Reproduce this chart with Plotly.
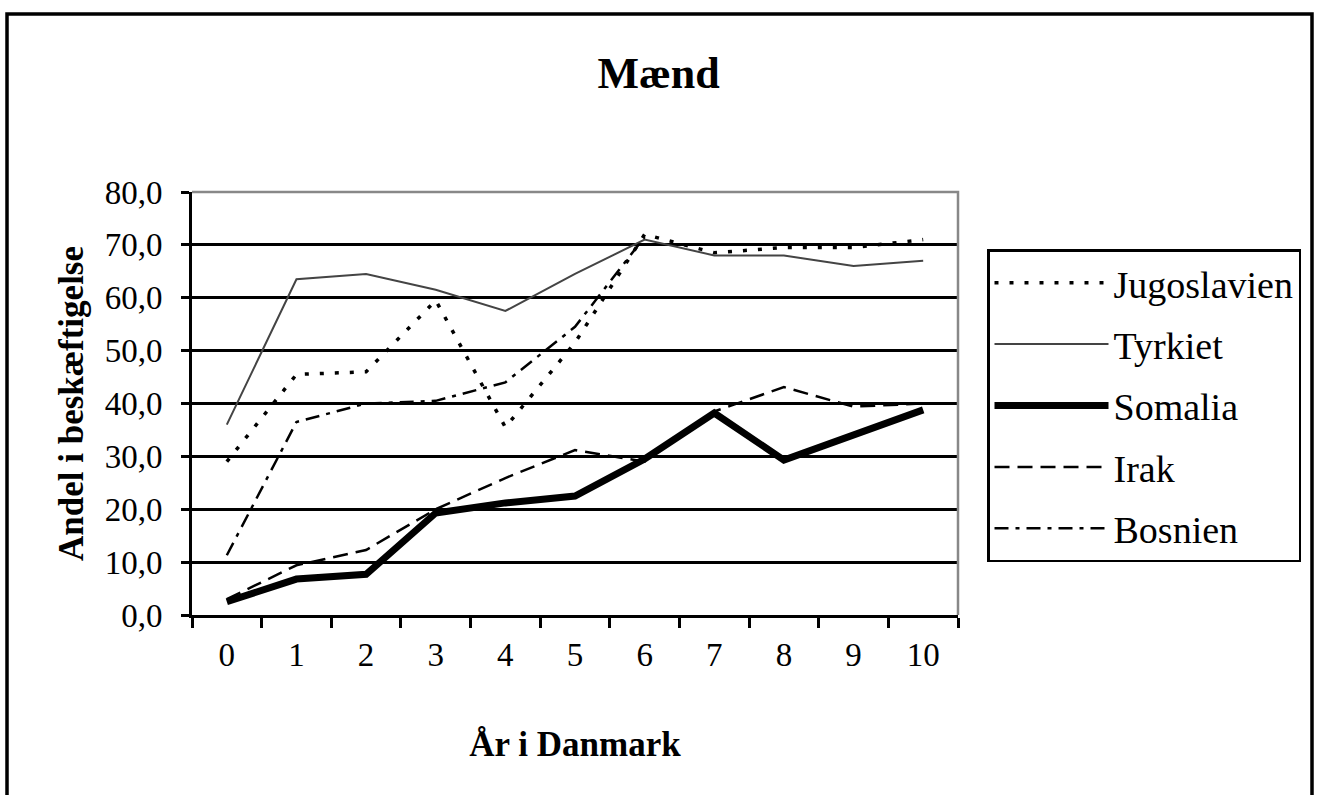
import plotly.graph_objects as go

years = ["0", "1", "2", "3", "4", "5", "6", "7", "8", "9", "10"]
jugoslavien = [29.0, 45.5, 46.0, 59.5, 35.5, 51.5, 72.0, 68.5, 69.5, 69.5, 71.0]
tyrkiet = [36.0, 63.5, 64.5, 61.5, 57.5, 64.5, 71.0, 68.0, 68.0, 66.0, 67.0]
somalia = [2.5, 6.8, 7.7, 19.3, 21.2, 22.5, 29.5, 38.2, 29.3, 34.0, 38.8]
irak = [3.0, 9.4, 12.3, 20.0, 25.9, 31.2, 29.0, 38.5, 43.1, 39.4, 40.0]
bosnien = [11.3, 36.5, 40.0, 40.5, 44.0, 54.5, 71.5, None, None, None, None]

y_tickvals = [0, 10, 20, 30, 40, 50, 60, 70, 80]
y_ticktext = ["0,0", "10,0", "20,0", "30,0", "40,0", "50,0", "60,0", "70,0", "80,0"]

SERIF = "Liberation Serif"

W, H = 1317, 795
L, R, T, B = 192, 1317 - 958, 192, 795 - 615
PW, PH = W - L - R, H - T - B


def px_x(px):
    return (px - L) / PW


def px_y(py):
    return (H - B - py) / PH


fig = go.Figure()

series = [
    ("Jugoslavien", jugoslavien, dict(color="black", width=3.5, dash="4px,11px")),
    ("Tyrkiet", tyrkiet, dict(color="#444444", width=2)),
    ("Somalia", somalia, dict(color="black", width=7)),
    ("Irak", irak, dict(color="black", width=2.5, dash="15px,8px")),
    ("Bosnien", bosnien, dict(color="black", width=2.5, dash="14px,7px,4px,7px")),
]

for name, vals, line in series:
    fig.add_trace(go.Scatter(
        x=years, y=vals, name=name, mode="lines", line=line,
        legendgroup=name, connectgaps=False,
    ))

fig.update_layout(
    width=W, height=H,
    margin=dict(l=L, r=R, t=T, b=B),
    paper_bgcolor="white", plot_bgcolor="white",
    font=dict(family=SERIF, color="black"),
    title=dict(
        text="Mænd", x=0.5, xref="container", xanchor="center",
        y=1 - 73 / H, yref="container", yanchor="middle",
        font=dict(family=SERIF, size=44, weight="bold", color="black"),
    ),
    xaxis=dict(
        type="category", range=[-0.5, 10.5],
        showgrid=False, zeroline=False,
        showline=True, linecolor="black", linewidth=3,
        ticks="outside", tickson="boundaries", ticklen=10, tickwidth=2.5, tickcolor="black",
        tickfont=dict(family=SERIF, size=33, color="black"),
        ticklabelstandoff=8,
        title=dict(text="År i Danmark", standoff=60,
                   font=dict(family=SERIF, size=35, weight="bold", color="black")),
        automargin=True,
    ),
    yaxis=dict(
        range=[0, 80], tickvals=y_tickvals, ticktext=y_ticktext,
        showgrid=True, gridcolor="black", gridwidth=2.5,
        zeroline=False,
        showline=True, linecolor="black", linewidth=3,
        ticks="outside", ticklen=8, tickwidth=2.5, tickcolor="black",
        tickfont=dict(family=SERIF, size=33, color="black"),
        ticklabelstandoff=12,
        title=dict(text="Andel i beskæftigelse", standoff=11,
                   font=dict(family=SERIF, size=35, weight="bold", color="black")),
        automargin=True,
    ),
    legend=dict(
        x=px_x(987), y=px_y(249), xanchor="left", yanchor="top",
        bgcolor="white", bordercolor="black", borderwidth=2.5,
        font=dict(family=SERIF, size=38, color="black"),
        itemwidth=114, tracegroupgap=9, traceorder="grouped",
    ),
    showlegend=True,
    shapes=[
        # gray top and right border of the plot area
        dict(type="path", xref="paper", yref="paper", path="M0,1 L1,1 L1,0",
             line=dict(color="#888888", width=2.5), layer="above"),
        # outer chart border
        dict(type="rect", xref="paper", yref="paper",
             x0=px_x(7), x1=px_x(1312), y0=px_y(805), y1=px_y(14),
             line=dict(color="black", width=3.5), layer="above"),
    ],
)

fig.write_html(
    "out.html",
    config={"displayModeBar": False},
    post_script="document.body.style.margin='0';document.body.style.overflow='hidden';",
)
